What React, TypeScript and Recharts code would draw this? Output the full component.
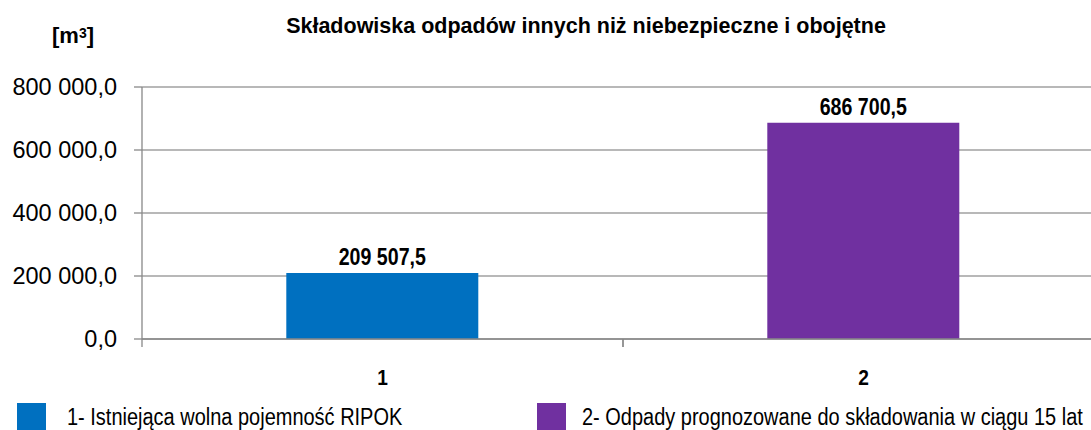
import React from 'react';
import { BarChart, Bar, XAxis, YAxis, CartesianGrid, Cell, LabelList } from 'recharts';

const categories = ['1', '2'];
const values = [209507.5, 686700.5];
const barColors = ['#0070C0', '#7030A0'];
const legendLabels = [
  '1- Istniejąca wolna pojemność RIPOK',
  '2- Odpady prognozowane do składowania w ciągu 15 lat',
];
const yTicks = [0, 200000, 400000, 600000, 800000];
const title = 'Składowiska odpadów innych niż niebezpieczne i obojętne';

const data = categories.map((c, i) => ({ name: c, value: values[i] }));

const FONT = '"Liberation Sans", Arial, sans-serif';

function fmt(v: number): string {
  const [intPart, dec] = Math.abs(v).toFixed(1).split('.');
  const grouped = intPart.replace(/\B(?=(\d{3})+(?!\d))/g, ' ');
  return (v < 0 ? '-' : '') + grouped + ',' + dec;
}

const PLOT_W = 1104 - 142;

const XTick = (props: any) => {
  const { x, y, payload } = props;
  const off = payload && typeof payload.offset === 'number' ? payload.offset : PLOT_W / categories.length / 2;
  const s = 0.85;
  return (
    <g>
      <line x1={x - off} x2={x - off} y1={y - 8} y2={y} stroke="#888" strokeWidth={1.3} />
      <line x1={x + off} x2={x + off} y1={y - 8} y2={y} stroke="#888" strokeWidth={1.3} />
      <text
        x={x}
        y={y + 38}
        textAnchor="middle"
        transform={`translate(${x},0) scale(${s},1) translate(${-x},0)`}
        fontFamily={FONT}
        fontWeight="bold"
        fontSize={22.5}
        fill="#000"
      >
        {payload.value}
      </text>
    </g>
  );
};

const BarLabel = (props: any) => {
  const { x, y, width, value } = props;
  const cx = Number(x) + Number(width) / 2;
  const s = 0.8;
  return (
    <text
      x={cx}
      y={Number(y) - 8}
      textAnchor="middle"
      transform={`translate(${cx},0) scale(${s},1) translate(${-cx},0)`}
      fontFamily={FONT}
      fontWeight="bold"
      fontSize={24.5}
      fill="#000"
    >
      {fmt(Number(value))}
    </text>
  );
};

export default function App() {
  return (
    <div style={{ position: 'absolute', left: 0, top: 0, width: 1091, height: 430, overflow: 'hidden', background: '#fff', fontFamily: FONT }}>
      <div style={{ position: 'absolute', left: 52, top: 23, fontSize: 22, fontWeight: 'bold', color: '#000', lineHeight: '26px' }}>
        [m<sup style={{ fontSize: 14, verticalAlign: 'top', position: 'relative', top: -3 }}>3</sup>]
      </div>
      <div style={{ position: 'absolute', left: 0, width: 1172, top: 13, textAlign: 'center', fontSize: 21.5, fontWeight: 'bold', color: '#000', lineHeight: '26px' }}>
        {title}
      </div>
      <div style={{ position: 'absolute', left: 0, top: 0 }}>
        <BarChart
          width={1104}
          height={430}
          data={data}
          margin={{ top: 87, right: 0, bottom: 41, left: 0 }}
          barCategoryGap="30%"
        >
          <CartesianGrid vertical={false} stroke="#A0A0A0" strokeWidth={1.3} />
          <XAxis
            dataKey="name"
            height={50}
            axisLine={{ stroke: '#888', strokeWidth: 1.3 }}
            tickLine={false}
            tickSize={8}
            tickMargin={0}
            tick={<XTick />}
            interval={0}
          />
          <YAxis
            width={142}
            domain={[0, 800000]}
            ticks={yTicks}
            interval={0}
            tickFormatter={fmt}
            axisLine={{ stroke: '#888', strokeWidth: 1.3 }}
            tickLine={{ stroke: '#888', strokeWidth: 1.3 }}
            tickSize={8}
            tickMargin={17}
            tick={{ fill: '#000', fontSize: 23.5, fontFamily: FONT }}
          />
          <Bar dataKey="value" isAnimationActive={false}>
            {data.map((d, i) => (
              <Cell key={d.name} fill={barColors[i]} />
            ))}
            <LabelList dataKey="value" position="top" content={<BarLabel />} />
          </Bar>
        </BarChart>
      </div>
      {legendLabels.map((label, i) => (
        <div key={label} style={{ position: 'absolute', top: 403, left: i === 0 ? 17 : 537, display: 'flex', alignItems: 'flex-start' }}>
          <div style={{ width: 29, height: 29, background: barColors[i], flex: 'none' }} />
          <div
            style={{
              marginLeft: i === 0 ? 21 : 16,
              fontSize: 23.5,
              color: '#000',
              lineHeight: '26px',
              marginTop: 1,
              whiteSpace: 'nowrap',
              transform: 'scaleX(0.85)',
              transformOrigin: 'left',
            }}
          >
            {label}
          </div>
        </div>
      ))}
    </div>
  );
}
